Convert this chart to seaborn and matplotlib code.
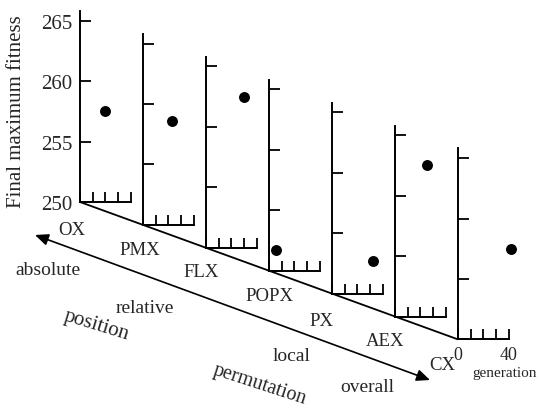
import numpy as np
import pandas as pd
import matplotlib
matplotlib.use("Agg")
import matplotlib.pyplot as plt
import seaborn as sns

# ---- data ----
operators = ["OX", "PMX", "FLX", "POPX", "PX", "AEX", "CX"]
generation = [20, 23, 30, 5.5, 32, 25, 41.5]
final_max_fitness = [257.5, 258.6, 262.5, 251.7, 252.7, 262.5, 257.5]
fitness_ticks = [250, 255, 260, 265]
generation_ticks = [0, 10, 20, 30, 40]
position_labels = ["absolute", "relative"]
permutation_labels = ["local", "overall"]

sns.set_style("white")
plt.rcParams["font.family"] = ["Liberation Serif", "DejaVu Serif"]

W, H = 541, 410
fig = plt.figure(figsize=(W / 100, H / 100), dpi=100)

# overlay axes in pixel coordinates for the pseudo-3D decorations
bg = fig.add_axes([0, 0, 1, 1])
bg.set_xlim(0, W)
bg.set_ylim(H, 0)
bg.axis("off")

# layout: panel origins in pixels
x0, y0 = 80, 203
dx, dy = 63, 22.9
pw, ph = 61, 191
ylo, yhi = 250, 265.8
xlo, xhi = 0, 48

origins = [(x0 + i * dx, y0 + i * dy) for i in range(len(operators))]

# diagonal base line
bg.plot([origins[0][0], origins[-1][0]], [origins[0][1], origins[-1][1]],
        color="black", lw=1.3, solid_capstyle="butt")

# double-headed arrow parallel to base
bg.annotate("", xy=(35, 236), xytext=(430, 381),
            arrowprops=dict(arrowstyle="<|-|>,head_length=0.8,head_width=0.35",
                            color="black", lw=1.2, shrinkA=0, shrinkB=0))

# operator labels
op_pos = [(72, 231), (140, 251), (201, 273), (269, 297), (321, 322), (385, 342), (442, 366)]
for name, (tx, ty) in zip(operators, op_pos):
    bg.text(tx, ty, name, ha="center", va="center", fontsize=13.5)

fs = 14
bg.text(48, 271, position_labels[0], ha="center", va="center", fontsize=fs)
bg.text(145, 309, position_labels[1], ha="center", va="center", fontsize=fs)
bg.text(292, 357, permutation_labels[0], ha="center", va="center", fontsize=fs)
bg.text(367, 388, permutation_labels[1], ha="center", va="center", fontsize=fs)
bg.text(97, 326, "position", ha="center", va="center", fontsize=15,
        rotation=-17)
bg.text(260, 385, "permutation", ha="center", va="center", fontsize=14.5,
        rotation=-18)
bg.text(17, 112, "Final maximum fitness", ha="center", va="center",
        fontsize=15, rotation=90)

for i, (name, (ox, oy)) in enumerate(zip(operators, origins)):
    ax = fig.add_axes([ox / W, 1 - oy / H, pw / W, ph / H])
    ax.patch.set_alpha(0)
    df = pd.DataFrame({"generation": [generation[i]],
                       "fitness": [final_max_fitness[i]]})
    sns.scatterplot(data=df, x="generation", y="fitness", ax=ax,
                    color="black", s=62, edgecolor="black", linewidth=0,
                    clip_on=False)
    ax.set_xlim(xlo, xhi)
    ax.set_ylim(ylo, yhi)
    for sp in ["top", "right"]:
        ax.spines[sp].set_visible(False)
    for sp in ["left", "bottom"]:
        ax.spines[sp].set_linewidth(1.4)
        ax.spines[sp].set_color("black")
    ax.spines["bottom"].set_bounds(0, 40)
    ax.set_yticks(fitness_ticks)
    ax.set_xticks(generation_ticks)
    ax.tick_params(axis="y", which="major", left=True, direction="in",
                   length=8, width=1.3, color="black",
                   pad=5.5, labelsize=15)
    ax.tick_params(axis="x", which="major", bottom=True, direction="in",
                   length=7.2, width=1.3, color="black",
                   pad=4.5, labelsize=13)
    ax.set_xlabel("")
    ax.set_ylabel("")
    if i != 0:
        ax.set_yticklabels([])
    if i == len(operators) - 1:
        ax.set_xticklabels(["0", "", "", "", "40"])
        ax.set_xlabel("generation", fontsize=11)
        ax.xaxis.label.set_va("center")
        ax.xaxis.set_label_coords((505 - ox) / pw, -(374 - oy) / ph)
    else:
        ax.set_xticklabels([])

fig.savefig("out.png", dpi=100)
